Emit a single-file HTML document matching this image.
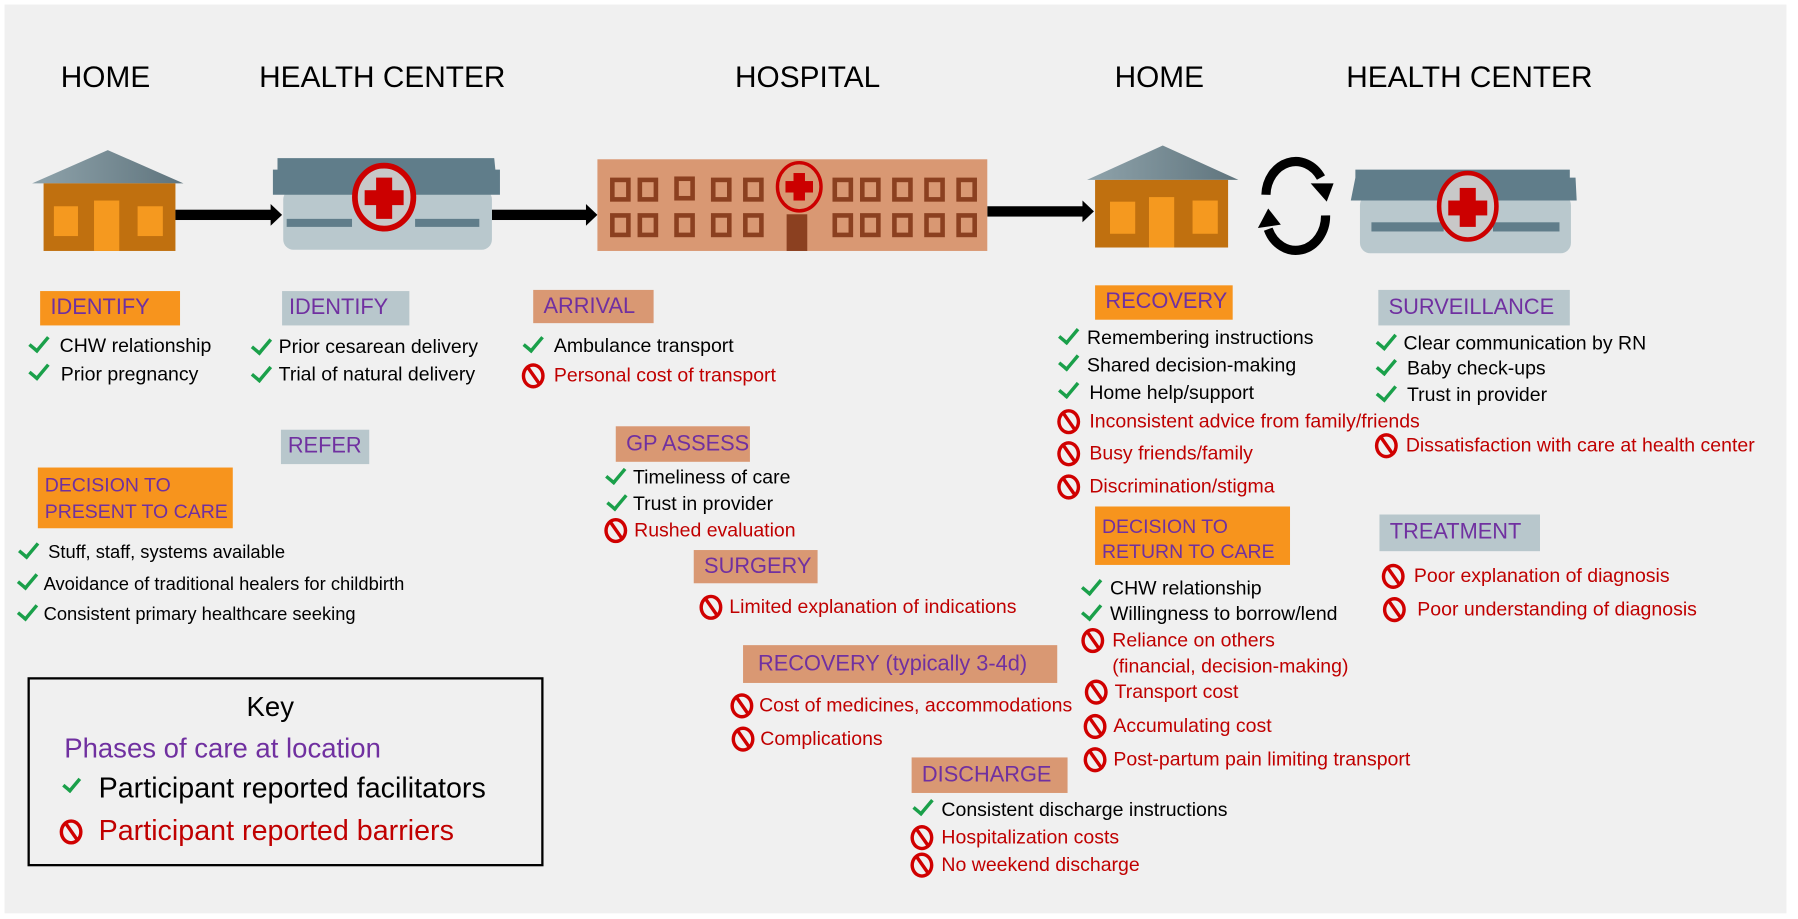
<!DOCTYPE html>
<html><head><meta charset="utf-8">
<style>
html,body{margin:0;padding:0;background:#fff;width:1798px;height:919px;overflow:hidden}
#s{position:absolute;left:0;top:0;width:1568px;height:802px;transform:scale(1.14668,1.1459);transform-origin:0 0;font-family:"Liberation Sans",sans-serif}
#bg{position:absolute;left:4px;top:4px;width:1554px;height:793px;background:#f0f0f0}
.h{position:absolute;font-size:26px;line-height:30px;color:#000;white-space:nowrap}
.p{position:absolute;color:#7030a0;font-size:19px;white-space:nowrap;box-sizing:border-box;padding-left:9px}
.o{background:#f7941d}.g{background:#b8c7cc}.r{background:#d99873}
.t{position:absolute;font-size:17px;line-height:24px;white-space:nowrap;color:#000}
.x{color:#c00000}
.c{position:absolute;width:7px;height:14px;border-right:3px solid #1aa04a;border-bottom:3px solid #1aa04a;transform:rotate(40deg)}
.b{position:absolute;width:14px;height:16px;border:3px solid #d00000;border-radius:50%}
.b:after{content:"";position:absolute;left:6px;top:-2px;width:3px;height:20px;background:#d00000;transform:rotate(-35deg)}
</style></head><body>
<div id="s">
<div id="bg"></div>

<div class="h" style="left:53px;top:52px">HOME</div>
<div class="h" style="left:226px;top:52px">HEALTH CENTER</div>
<div class="h" style="left:641px;top:52px">HOSPITAL</div>
<div class="h" style="left:972px;top:52px">HOME</div>
<div class="h" style="left:1174px;top:52px">HEALTH CENTER</div>

<svg style="position:absolute;left:0;top:0" width="1568" height="260">
<defs>
<linearGradient id="rf" x1="0" x2="1"><stop offset="0" stop-color="#8fa3ab"/><stop offset="1" stop-color="#5f747d"/></linearGradient>
</defs>
<!-- house 1 -->
<polygon points="28,160 94,131 160,160" fill="url(#rf)"/>
<rect x="38" y="160" width="115" height="59" fill="#c0700f"/>
<rect x="47" y="180" width="21" height="26" fill="#f5991f"/>
<rect x="120" y="180" width="22" height="26" fill="#f5991f"/>
<rect x="82" y="175" width="22" height="44" fill="#f5991f"/>
<!-- arrows -->
<rect x="153" y="183" width="85" height="9" fill="#000"/><polygon points="236,178 246,187.5 236,197" fill="#000"/>
<rect x="429" y="183" width="84" height="9" fill="#000"/><polygon points="511,178 521,187.5 511,197" fill="#000"/>
<rect x="861" y="180" width="85" height="9" fill="#000"/><polygon points="944,175 954,184.5 944,194" fill="#000"/>
<!-- health center 1 -->
<rect x="247" y="165" width="182" height="53" rx="9" fill="#b9c8cd"/>
<polygon points="242,138 431,138 432,148 436,148 436,170 238,170 238,148 242,148" fill="#607d8a"/>
<rect x="250" y="191" width="57" height="7" fill="#607d8a"/>
<rect x="362" y="191" width="56" height="7" fill="#607d8a"/>
<ellipse cx="335" cy="172" rx="26" ry="28" fill="#c8c8c8" stroke="#cc0000" stroke-width="4"/>
<ellipse cx="335" cy="172" rx="24" ry="26" fill="none" stroke="#cc0000" stroke-width="2"/>
<rect x="328" y="155" width="14" height="36" fill="#cc0000"/><rect x="318" y="166" width="34" height="13" fill="#cc0000"/>
<!-- hospital -->
<rect x="521" y="139" width="340" height="80" fill="#d99873"/>
<g fill="none" stroke="#8b4020" stroke-width="4">
<rect x="534" y="157" width="14" height="17"/><rect x="558" y="157" width="14" height="17"/><rect x="590" y="156" width="14" height="17"/><rect x="622" y="157" width="14" height="17"/><rect x="650" y="157" width="14" height="17"/>
<rect x="728" y="157" width="14" height="17"/><rect x="752" y="157" width="14" height="17"/><rect x="780" y="157" width="14" height="17"/><rect x="808" y="157" width="14" height="17"/><rect x="836" y="157" width="14" height="17"/>
<rect x="534" y="188" width="14" height="17"/><rect x="558" y="188" width="14" height="17"/><rect x="590" y="188" width="14" height="17"/><rect x="622" y="188" width="14" height="17"/><rect x="650" y="188" width="14" height="17"/>
<rect x="728" y="188" width="14" height="17"/><rect x="752" y="188" width="14" height="17"/><rect x="780" y="188" width="14" height="17"/><rect x="808" y="188" width="14" height="17"/><rect x="836" y="188" width="14" height="17"/>
</g>
<rect x="686" y="187" width="18" height="32" fill="#8b4020"/>
<ellipse cx="697" cy="163" rx="19" ry="21" fill="#d99873" stroke="#cc0000" stroke-width="3"/>
<rect x="692" y="151" width="10" height="24" fill="#cc0000"/><rect x="685" y="158" width="24" height="10" fill="#cc0000"/>
<!-- house 2 -->
<polygon points="948,157 1014,127 1080,157" fill="url(#rf)"/>
<rect x="955" y="157" width="116" height="59" fill="#c0700f"/>
<rect x="968" y="176" width="22" height="28" fill="#f5991f"/>
<rect x="1040" y="175" width="22" height="29" fill="#f5991f"/>
<rect x="1002" y="172" width="22" height="44" fill="#f5991f"/>
<!-- cycle -->
<path d="M1104,170 A26,30 0 0 1 1152,155" fill="none" stroke="#000" stroke-width="8"/>
<polygon points="1143,160 1163,160 1157,176" fill="#000"/>
<path d="M1156,188 A26,30 0 0 1 1106,200" fill="none" stroke="#000" stroke-width="8"/>
<polygon points="1097,199 1117,196 1106,182" fill="#000"/>
<!-- health center 2 -->
<rect x="1186" y="170" width="184" height="51" rx="9" fill="#b9c8cd"/>
<polygon points="1182,148 1369,148 1369,155 1374,155 1375,175 1178,175 1182,155" fill="#607d8a"/>
<rect x="1196" y="194" width="63" height="8" fill="#607d8a"/>
<rect x="1302" y="194" width="58" height="8" fill="#607d8a"/>
<ellipse cx="1280" cy="180" rx="25" ry="29" fill="#c8c8c8" stroke="#cc0000" stroke-width="4"/>
<rect x="1273" y="164" width="14" height="34" fill="#cc0000"/><rect x="1263" y="175" width="34" height="13" fill="#cc0000"/>
</svg>

<!-- phase labels -->
<div class="p o" style="left:35px;top:254px;width:122px;height:30px;line-height:30px">IDENTIFY</div>
<div class="p g" style="left:246px;top:254px;width:111px;height:30px;line-height:30px;padding-left:6px">IDENTIFY</div>
<div class="p r" style="left:465px;top:253px;width:105px;height:29px;line-height:29px">ARRIVAL</div>
<div class="p g" style="left:245px;top:375px;width:77px;height:30px;line-height:30px;padding-left:6px">REFER</div>
<div class="p o" style="left:33px;top:408px;width:170px;height:53px;line-height:23px;font-size:17px;padding:4px 0 0 6px">DECISION TO<br>PRESENT TO CARE</div>
<div class="p r" style="left:537px;top:372px;width:117px;height:31px;line-height:31px">GP ASSESS</div>
<div class="p r" style="left:605px;top:480px;width:108px;height:29px;line-height:29px">SURGERY</div>
<div class="p r" style="left:648px;top:563px;width:274px;height:33px;line-height:33px;padding-left:13px">RECOVERY (typically 3-4d)</div>
<div class="p r" style="left:795px;top:661px;width:136px;height:31px;line-height:31px">DISCHARGE</div>
<div class="p o" style="left:955px;top:249px;width:120px;height:30px;line-height:30px">RECOVERY</div>
<div class="p g" style="left:1202px;top:253px;width:167px;height:31px;line-height:31px">SURVEILLANCE</div>
<div class="p o" style="left:955px;top:442px;width:170px;height:51px;line-height:22px;font-size:17px;padding:7px 0 0 6px">DECISION TO<br>RETURN TO CARE</div>
<div class="p g" style="left:1203px;top:449px;width:140px;height:32px;line-height:32px">TREATMENT</div>

<!-- home identify -->
<i class="c" style="left:29px;top:290px"></i><div class="t" style="left:52px;top:290px">CHW relationship</div>
<i class="c" style="left:29px;top:314px"></i><div class="t" style="left:53px;top:315px">Prior pregnancy</div>
<!-- HC identify -->
<i class="c" style="left:223px;top:292px"></i><div class="t" style="left:243px;top:291px">Prior cesarean delivery</div>
<i class="c" style="left:223px;top:316px"></i><div class="t" style="left:243px;top:315px">Trial of natural delivery</div>
<!-- arrival -->
<i class="c" style="left:460px;top:290px"></i><div class="t" style="left:483px;top:290px">Ambulance transport</div>
<i class="b" style="left:455px;top:317px"></i><div class="t x" style="left:483px;top:316px">Personal cost of transport</div>
<!-- decision present -->
<i class="c" style="left:20px;top:470px"></i><div class="t" style="left:42px;top:471px;font-size:16px">Stuff, staff, systems available</div>
<i class="c" style="left:19px;top:497px"></i><div class="t" style="left:38px;top:499px;font-size:16px">Avoidance of traditional healers for childbirth</div>
<i class="c" style="left:19px;top:524px"></i><div class="t" style="left:38px;top:525px;font-size:16px">Consistent primary healthcare seeking</div>
<!-- GP assess -->
<i class="c" style="left:532px;top:405px"></i><div class="t" style="left:552px;top:405px">Timeliness of care</div>
<i class="c" style="left:533px;top:428px"></i><div class="t" style="left:552px;top:428px">Trust in provider</div>
<i class="b" style="left:527px;top:452px"></i><div class="t x" style="left:553px;top:451px">Rushed evaluation</div>
<!-- surgery -->
<i class="b" style="left:610px;top:519px"></i><div class="t x" style="left:636px;top:518px">Limited explanation of indications</div>
<!-- recovery hospital -->
<i class="b" style="left:637px;top:605px"></i><div class="t x" style="left:662px;top:604px">Cost of medicines, accommodations</div>
<i class="b" style="left:638px;top:634px"></i><div class="t x" style="left:663px;top:633px">Complications</div>
<!-- discharge -->
<i class="c" style="left:800px;top:694px"></i><div class="t" style="left:821px;top:695px">Consistent discharge instructions</div>
<i class="b" style="left:794px;top:720px"></i><div class="t x" style="left:821px;top:719px">Hospitalization costs</div>
<i class="b" style="left:794px;top:744px"></i><div class="t x" style="left:821px;top:743px">No weekend discharge</div>
<!-- recovery home -->
<i class="c" style="left:927px;top:283px"></i><div class="t" style="left:948px;top:283px">Remembering instructions</div>
<i class="c" style="left:927px;top:306px"></i><div class="t" style="left:948px;top:307px">Shared decision-making</div>
<i class="c" style="left:927px;top:330px"></i><div class="t" style="left:950px;top:331px">Home help/support</div>
<i class="b" style="left:922px;top:357px"></i><div class="t x" style="left:950px;top:356px">Inconsistent advice from family/friends</div>
<i class="b" style="left:922px;top:385px"></i><div class="t x" style="left:950px;top:384px">Busy friends/family</div>
<i class="b" style="left:922px;top:414px"></i><div class="t x" style="left:950px;top:413px">Discrimination/stigma</div>
<!-- decision return -->
<i class="c" style="left:947px;top:502px"></i><div class="t" style="left:968px;top:502px">CHW relationship</div>
<i class="c" style="left:947px;top:524px"></i><div class="t" style="left:968px;top:524px">Willingness to borrow/lend</div>
<i class="b" style="left:943px;top:548px"></i><div class="t x" style="left:970px;top:547px">Reliance on others</div>
<div class="t x" style="left:970px;top:570px">(financial, decision-making)</div>
<i class="b" style="left:946px;top:593px"></i><div class="t x" style="left:972px;top:592px">Transport cost</div>
<i class="b" style="left:945px;top:623px"></i><div class="t x" style="left:971px;top:622px">Accumulating cost</div>
<i class="b" style="left:945px;top:652px"></i><div class="t x" style="left:971px;top:651px">Post-partum pain limiting transport</div>
<!-- surveillance -->
<i class="c" style="left:1204px;top:288px"></i><div class="t" style="left:1224px;top:288px">Clear communication by RN</div>
<i class="c" style="left:1204px;top:310px"></i><div class="t" style="left:1227px;top:310px">Baby check-ups</div>
<i class="c" style="left:1204px;top:333px"></i><div class="t" style="left:1227px;top:333px">Trust in provider</div>
<i class="b" style="left:1199px;top:378px"></i><div class="t x" style="left:1226px;top:377px">Dissatisfaction with care at health center</div>
<!-- treatment -->
<i class="b" style="left:1205px;top:492px"></i><div class="t x" style="left:1233px;top:491px">Poor explanation of diagnosis</div>
<i class="b" style="left:1206px;top:521px"></i><div class="t x" style="left:1236px;top:520px">Poor understanding of diagnosis</div>

<!-- key -->
<div style="position:absolute;left:24px;top:591px;width:446px;height:161px;border:2.5px solid #000;background:#f0f0f0"></div>
<div class="t" style="left:215px;top:603px;font-size:24px;line-height:30px">Key</div>
<div class="t" style="left:56px;top:639px;font-size:24px;line-height:30px;color:#7030a0">Phases of care at location</div>
<i class="c" style="left:58px;top:676px;width:6px;height:12px"></i>
<div class="t" style="left:86px;top:673px;font-size:25px;line-height:30px">Participant reported facilitators</div>
<i class="b" style="left:52px;top:715px"></i>
<div class="t x" style="left:86px;top:710px;font-size:25px;line-height:30px">Participant reported barriers</div>
</div>
</body></html>
